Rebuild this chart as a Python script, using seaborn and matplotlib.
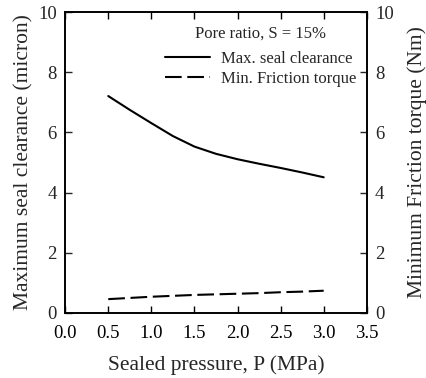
import matplotlib
matplotlib.use("Agg")
import matplotlib.pyplot as plt
import seaborn as sns
import pandas as pd

pressure = [0.5, 0.75, 1.0, 1.25, 1.5, 1.75, 2.0, 2.25, 2.5, 2.75, 3.0]
clearance = [7.21, 6.75, 6.31, 5.88, 5.53, 5.29, 5.11, 4.96, 4.82, 4.67, 4.51]
torque = [0.46, 0.50, 0.54, 0.57, 0.60, 0.62, 0.64, 0.66, 0.69, 0.71, 0.74]

sns.set_style("ticks")
plt.rcParams['font.family'] = ['Liberation Serif', 'DejaVu Serif']

df = pd.DataFrame({"P": pressure, "clearance": clearance, "torque": torque})

fig = plt.figure(figsize=(4.26, 3.78), dpi=100)
ax = fig.add_axes([0.153, 0.172, 0.708, 0.796])
ax2 = ax.twinx()

sns.lineplot(data=df, x="P", y="clearance", ax=ax, color="black", lw=1.5,
             legend=False)
sns.lineplot(data=df, x="P", y="torque", ax=ax2, color="black", lw=1.5,
             legend=False)
ax2.lines[0].set_dashes((8, 2.7))

ax.set_xlim(0, 3.5)
ax.set_ylim(0, 10)
ax2.set_ylim(0, 10)
ax.set_xticks([0, 0.5, 1.0, 1.5, 2.0, 2.5, 3.0, 3.5])
ax.set_xticklabels(["0.0", "0.5", "1.0", "1.5", "2.0", "2.5", "3.0", "3.5"])
ax.set_yticks([0, 2, 4, 6, 8, 10])
ax2.set_yticks([0, 2, 4, 6, 8, 10])

ax.tick_params(axis="x", direction="in", top=True, labelsize=13.5, length=5, width=1, pad=9, colors="black")
ax.tick_params(axis="y", direction="in", labelsize=13.5, length=5, width=1, pad=6)
ax2.tick_params(axis="y", direction="in", labelsize=13.5, length=5, width=1, pad=6)

for a in (ax, ax2):
    for s in a.spines.values():
        s.set_linewidth(1.2)
        s.set_color("black")

ax.set_xlabel("Sealed pressure, P (MPa)", fontsize=15.5, labelpad=9)
ax.set_ylabel("Maximum seal clearance (micron)", fontsize=15.5, labelpad=3)
ax2.set_ylabel("Minimum Friction torque (Nm)", fontsize=15.5, labelpad=10)

ax.text(0.649, 0.930, "Pore ratio, S = 15%", transform=ax.transAxes,
        ha="center", va="center", fontsize=12)

handles = ax.get_lines()[:1] + ax2.get_lines()[:1]
leg = ax.legend(handles, ["Max. seal clearance", "Min. Friction torque"],
                loc="upper left", frameon=False, borderpad=0, borderaxespad=0,
                fontsize=12, handlelength=2.7, handletextpad=0.66,
                bbox_to_anchor=(0.331, 0.872), labelspacing=0.27)

fig.savefig("out.png", dpi=100)
